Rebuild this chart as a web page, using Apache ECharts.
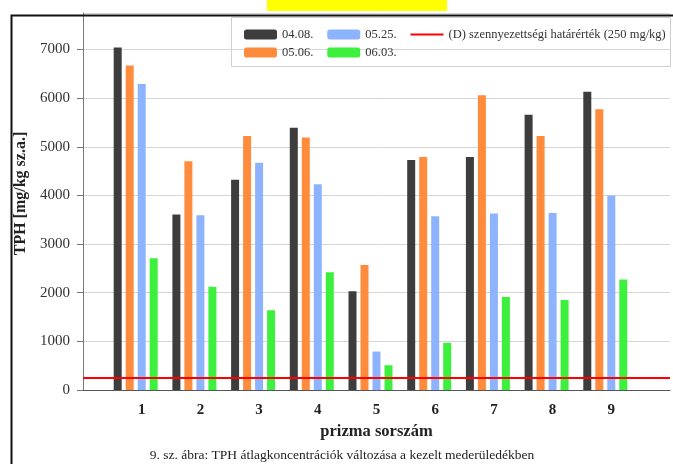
<!DOCTYPE html>
<html>
<head>
<meta charset="utf-8">
<script src="https://cdn.jsdelivr.net/npm/echarts@6/dist/echarts.min.js"></script>
<style>
  html, body { margin: 0; padding: 0; background: #fff; }
  #main { width: 673px; height: 464px; }
</style>
</head>
<body>
<div id="main"></div>
<script>
// prizma sorszám
var prisms = [1, 2, 3, 4, 5, 6, 7, 8, 9];
// mintavételi időpontok
var dates = ['04.08.', '05.06.', '05.25.', '06.03.'];
var apr08 = [7040, 3610, 4320, 5390, 2030, 4730, 4790, 5660, 6130];
var may06 = [6670, 4700, 5220, 5190, 2570, 4790, 6060, 5220, 5770];
var may25 = [6290, 3590, 4670, 4230, 790, 3570, 3630, 3640, 4000];
var jun03 = [2710, 2120, 1640, 2420, 510, 970, 1910, 1850, 2270];
var yTicks = [0, 1000, 2000, 3000, 4000, 5000, 6000, 7000];
var limitValue = 250;
var limitName = '(D) szennyezettségi határérték (250 mg/kg)';

var colors = ['#3d3d3d', '#ff8b3d', '#8db3ff', '#3ef03e'];
var serif = '"Liberation Serif", "DejaVu Serif", serif';
// vekony vonal jel a jelmagyarazatban (a teteje/alja csak a befoglalo doboz miatt)
var lineIcon = 'path://M0,0 L1,0 Z M0,4 L33,4 L33,6 L0,6 Z M0,10 L1,10 Z';

var myChart = echarts.init(document.getElementById('main'));

function pairs(vals) {
  return prisms.map(function (p, i) { return [p, vals[i]]; });
}

var series = [apr08, may06, may25, jun03].map(function (vals, i) {
  return {
    name: dates[i],
    type: 'bar',
    data: pairs(vals),
    barWidth: 8,
    barGap: '50%',
    itemStyle: { color: colors[i] },
    emphasis: { disabled: true }
  };
});
// a határérték sorozat: ures oszlophely a csoportban + vizszintes vonal
series.push({
  name: limitName,
  type: 'bar',
  data: [],
  barWidth: 8,
  barGap: '50%',
  itemStyle: { color: '#ff0000' },
  markLine: {
    silent: true,
    symbol: ['none', 'none'],
    label: { show: false },
    lineStyle: { color: '#ff0000', width: 2, type: 'solid' },
    data: [{ yAxis: limitValue }]
  }
});

var legendText = { fontFamily: serif, fontSize: 12.5, color: '#333' };

myChart.setOption({
  animation: false,
  backgroundColor: '#fff',
  grid: { left: 83, top: 13, width: 600, bottom: 74 },
  legend: [{
    data: [dates[0], dates[2], { name: limitName, icon: lineIcon }],
    left: 239,
    top: 23,
    itemWidth: 33,
    itemHeight: 10,
    itemGap: 14,
    selectedMode: false,
    textStyle: legendText
  }, {
    data: [dates[1], dates[3]],
    left: 239,
    top: 41,
    itemWidth: 33,
    itemHeight: 10,
    itemGap: 14,
    selectedMode: false,
    textStyle: legendText
  }],
  xAxis: {
    type: 'value',
    min: 0,
    max: 10,
    interval: 1,
    name: 'prizma sorszám',
    nameLocation: 'middle',
    nameGap: 31,
    nameTextStyle: { fontFamily: serif, fontSize: 16.5, fontWeight: 'bold', color: '#222' },
    axisLine: { lineStyle: { color: '#555' } },
    axisTick: { show: false },
    splitLine: { show: false },
    axisLabel: {
      margin: 13,
      fontFamily: serif,
      fontSize: 15,
      fontWeight: 'bold',
      color: '#222',
      formatter: function (v) { return prisms.indexOf(v) >= 0 ? String(v) : ''; }
    }
  },
  yAxis: {
    type: 'value',
    min: 0,
    max: 7750,
    interval: 1000,
    name: 'TPH [mg/kg sz.a.]',
    nameLocation: 'middle',
    nameGap: 49,
    nameTextStyle: {
      fontFamily: serif, fontSize: 16, fontWeight: 'bold', color: '#222',
      padding: [0, 0, 0, 16]
    },
    axisLine: { show: true, lineStyle: { color: '#777' } },
    axisTick: { show: true, length: 6, lineStyle: { color: '#777' } },
    splitLine: { lineStyle: { color: '#d6d6d6' } },
    axisLabel: {
      margin: 13,
      fontFamily: serif,
      fontSize: 15,
      color: '#333',
      showMaxLabel: false,
      formatter: function (v) { return yTicks.indexOf(v) >= 0 ? String(v) : ''; }
    }
  },
  graphic: [{
    type: 'rect',
    left: 267, top: 0,
    shape: { width: 180, height: 11 },
    style: { fill: '#ffff00' },
    z: 10
  }, {
    type: 'rect',
    left: 231, top: 17,
    shape: { width: 439, height: 49 },
    style: { fill: '#fff', stroke: '#cfcfcf', lineWidth: 1 },
    z: -1
  }, {
    type: 'rect',
    left: 9, top: 13,
    shape: { width: 700, height: 500 },
    style: { fill: 'none', stroke: '#111', lineWidth: 2 },
    z: 20
  }, {
    type: 'text',
    x: 342,
    y: 455,
    style: {
      text: '9. sz. ábra: TPH átlagkoncentrációk változása a kezelt mederüledékben',
      fontFamily: serif,
      fontSize: 13.5,
      fill: '#222',
      align: 'center',
      verticalAlign: 'middle'
    },
    z: 10
  }],
  series: series
});
</script>
</body>
</html>
